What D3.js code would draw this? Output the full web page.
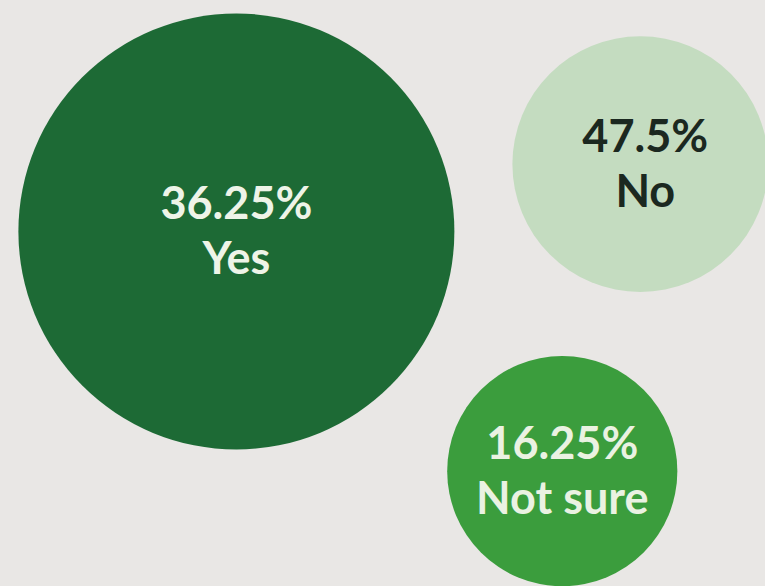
<!DOCTYPE html>
<html lang="en">
<head>
<meta charset="UTF-8">
<title>Bubble chart</title>
<style>
    html, body { margin: 0; padding: 0; background: #e9e7e5; }
    svg { display: block; }
</style>
</head>
<body>
<div id="chart"></div>
<script src="https://cdn.jsdelivr.net/npm/d3@7"></script>
<script>
    // answers, their labels and the weights that set the bubble areas
    var answers = ["Yes", "No", "Not sure"];
    var percents = ["36.25%", "47.5%", "16.25%"];
    var bubbleWeight = [61, 21, 17];

    var width = 765, height = 586;

    // layout of the bubble centres, in fractions of the canvas
    var layout = [{ fx: 0.309, fy: 0.395 }, { fx: 0.837, fy: 0.280 }, { fx: 0.735, fy: 0.804 }];
    var fills = ["#1d6a35", "#c4dcc0", "#3b9d3d"];
    var inks = ["#eef4e8", "#1b2820", "#eaf2e2"];

    var x = d3.scaleLinear().domain([0, 1]).range([0, width]);
    var y = d3.scaleLinear().domain([0, 1]).range([0, height]);
    var r = d3.scaleSqrt().domain([0, d3.max(bubbleWeight)]).range([0, 218]);

    var nodes = answers.map(function (a, i) {
        return { name: a, pct: percents[i], w: bubbleWeight[i], fx: layout[i].fx, fy: layout[i].fy, i: i };
    });

    var svg = d3.select("#chart").append("svg")
        .attr("width", width)
        .attr("height", height);

    svg.append("rect")
        .attr("width", width)
        .attr("height", height)
        .attr("fill", "#e9e7e5");

    var g = svg.selectAll(".bubble")
        .data(nodes)
        .enter()
        .append("g")
        .attr("class", "bubble")
        .attr("transform", function (d) {
            return "translate(" + x(d.fx) + "," + y(d.fy) + ")";
        });

    g.append("circle")
        .attr("r", function (d) { return r(d.w); })
        .attr("fill", function (d) { return fills[d.i]; });

    // two lines: percentage on top, answer below
    var lines = [{ key: "pct", dy: -12 }, { key: "name", dy: 43 }];
    lines.forEach(function (ln) {
        g.append("text")
            .attr("text-anchor", "middle")
            .attr("x", function (d) { return d.i == 1 ? 5 : 0; })
            .attr("y", ln.dy)
            .attr("font-family", "Lato, 'Open Sans', sans-serif")
            .attr("font-size", 45)
            .attr("font-weight", 700)
            .attr("fill", function (d) { return inks[d.i]; })
            .text(function (d) { return d[ln.key]; });
    });
</script>
</body>
</html>
